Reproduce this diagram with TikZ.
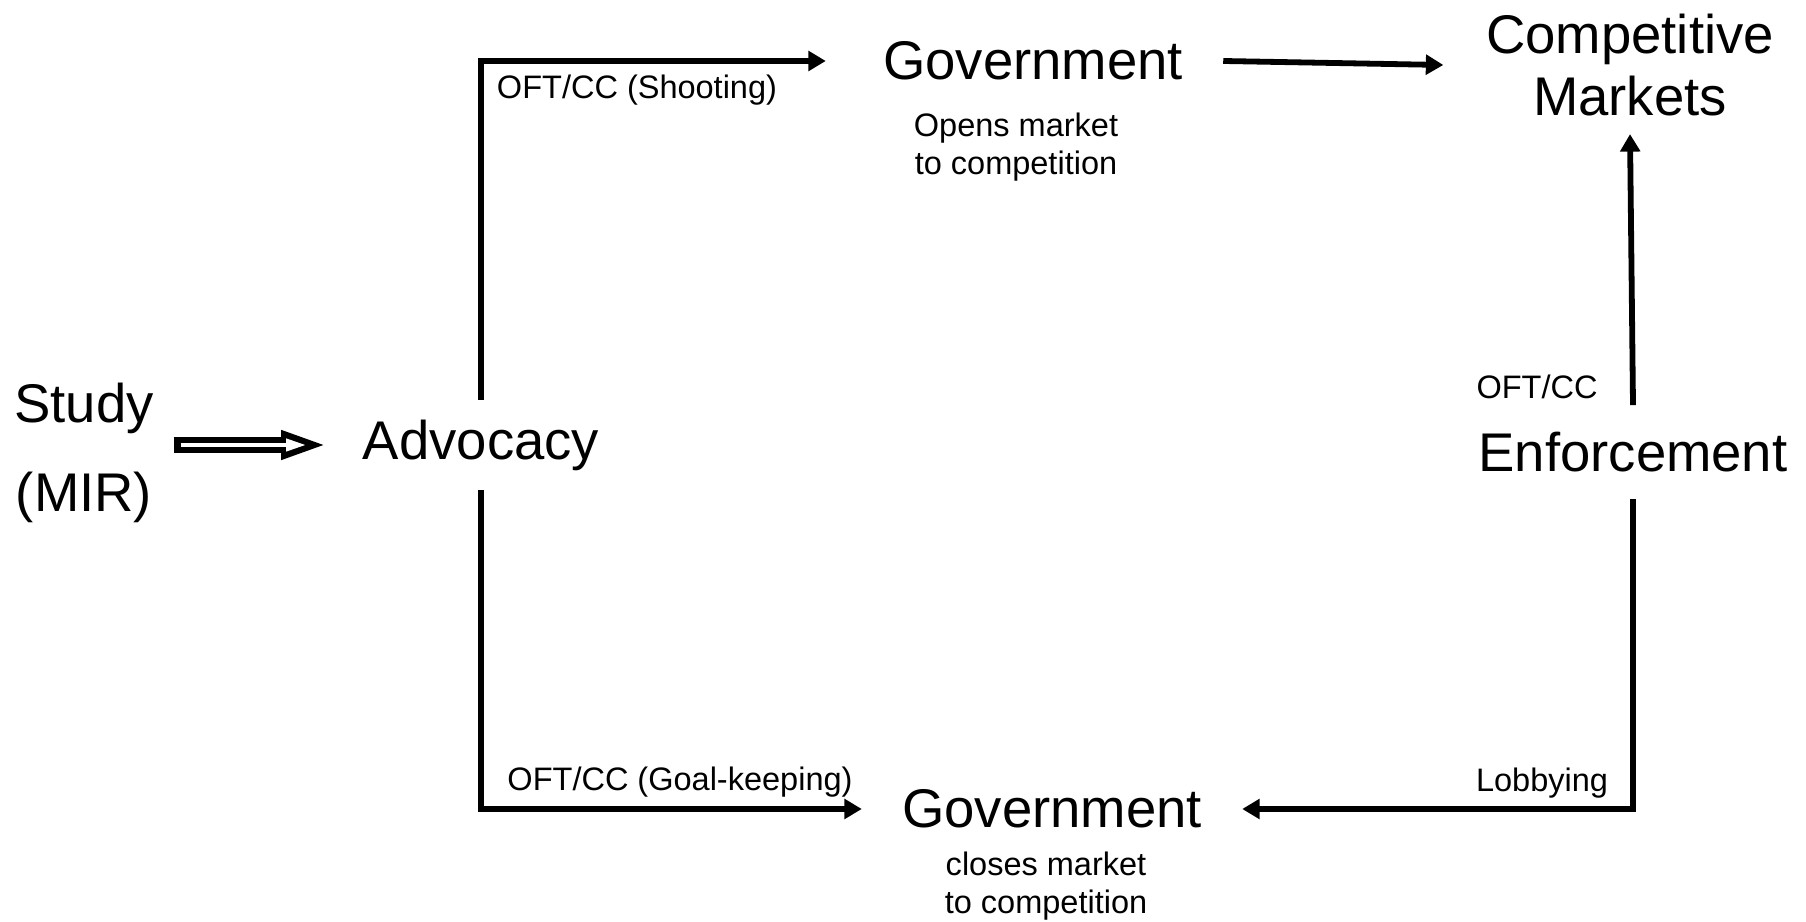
\documentclass[tikz,border=0pt]{standalone}
\usepackage{fontspec}
\setmainfont{Liberation Sans}
\usetikzlibrary{positioning,arrows.meta}
\tikzset{
    big/.style={font=\fontsize{31}{35}\selectfont,align=center},
    note/.style={font=\fontsize{18.5}{22}\selectfont,align=center},
    gov/.style={big,inner xsep=8mm},
    edge/.style={line width=3.3pt,-{Triangle[length=3.5mm,width=3.9mm]}},
    dblout/.style={line width=3.1mm,-{Triangle[length=9.4mm,width=5.2mm]}},
    dblin/.style={white,line width=0.8mm,-{Triangle[length=4mm,width=2.4mm]}},
}
\begin{document}
\begin{tikzpicture}
\useasboundingbox (0,0) rectangle (36.12,18.42);
% main boxes
\node[big,font=\fontsize{31}{50.5}\selectfont,outer xsep=2.8mm] (study) at (1.68,9.36) {Study\\(MIR)};
\node[big,outer xsep=5.8mm,outer ysep=2.8mm] (adv) at (9.62,9.52) {Advocacy};
\node[gov] (gtop) at (20.66,17.2) {Government};
\node[gov] (gbot) at (21.04,2.24) {Government};
\node[big,inner xsep=8.5mm,outer ysep=2.5mm] (cm) at (32.6,17.12) {Competitive\\Markets};
\node[big,outer ysep=4.2mm] (enf) at (32.66,9.38) {Enforcement};

% notes under the governments
\node[note] (gtopnote) at (20.32,15.48) {Opens market\\to competition};
\node[note] (gbotnote) at (20.92,0.7) {closes market\\to competition};

% labels on the wiring
\node[note] (shoot) at (12.74,16.62) {OFT/CC (Shooting)};
\node[note] (goal)  at (13.6,2.78)   {OFT/CC (Goal-keeping)};
\node[note] (ofcc)  at (30.74,10.68) {OFT/CC};
\node[note] (lobby) at (30.84,2.76)  {Lobbying};

% wiring
\draw[dblout] (study.east |- adv.west) -- (adv.west);
\draw[dblin,shorten <=1.4mm,shorten >=4.4mm] (study.east |- adv.west) -- (adv.west);
\draw[edge] (adv.north) |- ([xshift=-3.4mm]gtop.west);
\draw[edge] (adv.south) |- (gbot.west);
\draw[edge] (gtop.east) -- (cm.west);
\draw[edge] (enf.north) -- (cm.south);
\draw[edge] (enf.south) |- (gbot.east);
\end{tikzpicture}
\end{document}
